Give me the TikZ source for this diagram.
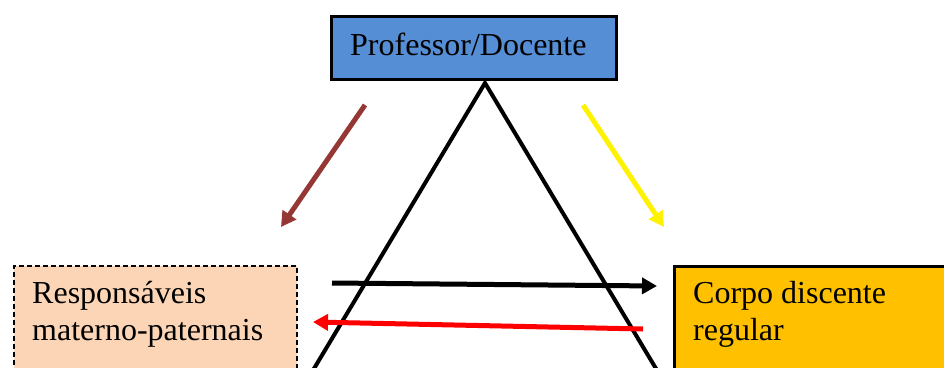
\documentclass[tikz,border=0pt]{standalone}
\usepackage{fontspec}
\setmainfont{Liberation Serif}
\usetikzlibrary{arrows.meta}
\definecolor{profblue}{RGB}{85,142,213}
\definecolor{peach}{RGB}{251,213,181}
\definecolor{amber}{RGB}{255,192,0}
\definecolor{brownred}{RGB}{149,55,53}
\begin{document}
\begin{tikzpicture}[x=1pt,y=-1pt,
  lbl/.style={font=\fontsize{32}{37}\selectfont, inner sep=0pt, align=left},
  boxprof/.style={draw=black, line width=3pt, fill=profblue, minimum width=285pt, minimum height=63pt, inner sep=0pt},
  boxresp/.style={draw=black, line width=2.2pt, dash pattern=on 5pt off 3pt, fill=peach, minimum width=283pt, minimum height=140pt, inner sep=0pt},
  boxcorpo/.style={draw=black, line width=3pt, fill=amber, minimum width=290pt, minimum height=140pt, inner sep=0pt},
  arr/.style={line width=5pt, -{Triangle[length=15pt,width=16pt]}},
  tri/.style={draw=black, line width=4pt, line join=miter}
]
\useasboundingbox (0,0) rectangle (944,367);
\clip (0,0) rectangle (944,367);
% boxes
\node[boxresp, anchor=north west] (resp) at (13,265) {};
\node[boxcorpo, anchor=north west] (corpo) at (673,265) {};
% triangle
\coordinate (apex) at (485,83);
\coordinate (bl) at (297,397);
\coordinate (br) at (673,397);
\draw[tri] (bl) -- (apex) -- (br);
% professor box
\node[boxprof] (prof) at (473.5,47.5) {};
\node[lbl, anchor=base west] (proftxt) at (350,55) {Professor/Docente};
\node[lbl, anchor=base west] (resptxt) at (32,340) {Responsáveis\\materno-paternais};
\node[lbl, anchor=base west] (corpotxt) at (693,340) {Corpo discente\\regular};
% arrow end points
\coordinate (b1) at (365,105);
\coordinate (b2) at (281,227);
\coordinate (y1) at (583,105);
\coordinate (y2) at (664,227);
\coordinate (k1) at (332,283);
\coordinate (k2) at (657,286);
\coordinate (r1) at (643,329);
\coordinate (r2) at (313,322);
\draw[arr, brownred] (b1) -- (b2);
\draw[arr, yellow] (y1) -- (y2);
\draw[arr, black] (k1) -- (k2);
\draw[arr, red] (r1) -- (r2);
\end{tikzpicture}
\end{document}
